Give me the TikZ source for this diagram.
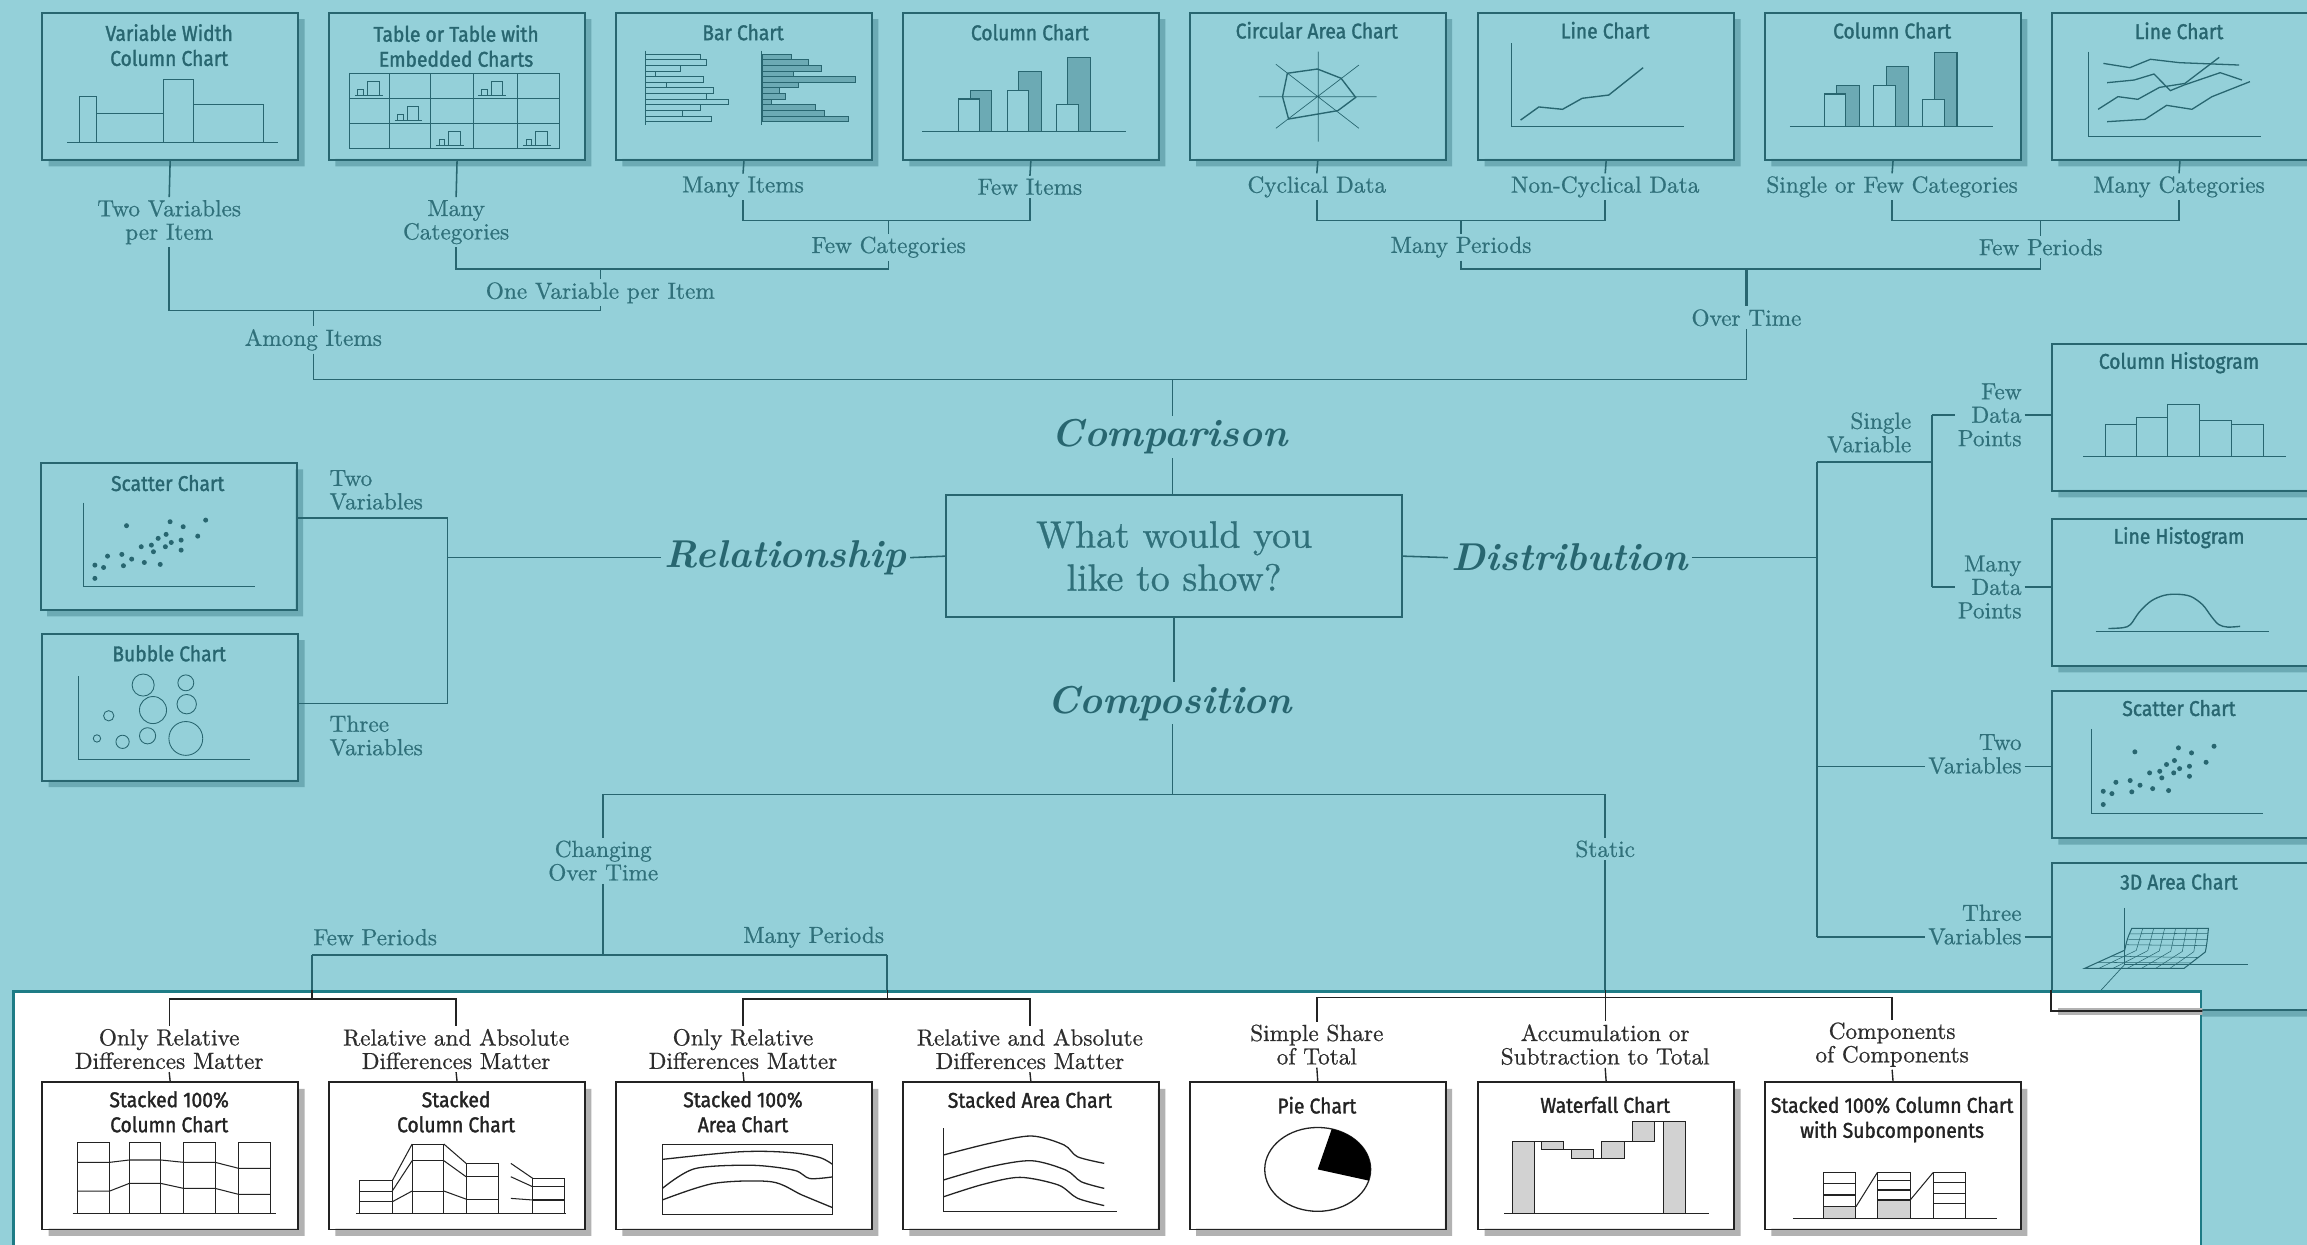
\documentclass[tikz,border=0pt]{standalone}
\usepackage{fontspec}
\newfontfamily\titleface{Fira Sans}[FakeStretch=0.9,FakeBold=1.5]
\newfontfamily\lblface{lmroman10-regular.otf}[FakeBold=0.7]
\usetikzlibrary{calc}

\definecolor{bgc}{RGB}{148,208,217}
\definecolor{ink}{RGB}{40,102,112}
\definecolor{txt}{RGB}{48,112,122}
\definecolor{shd}{RGB}{108,170,180}
\definecolor{barc}{RGB}{108,170,180}
\definecolor{pbord}{RGB}{30,124,134}
\definecolor{gink}{RGB}{35,35,35}
\definecolor{gtxt}{RGB}{45,45,45}
\definecolor{gshd}{RGB}{178,178,178}
\definecolor{gfill}{RGB}{210,210,210}

\tikzset{
  cbox/.style={line width=1.1pt, minimum width=5.22cm, minimum height=3cm, inner sep=0pt, anchor=north west},
  ttl/.style={font=\titleface\fontsize{12.4}{14.5}\selectfont, align=center, inner sep=0pt, anchor=north},
  lbl/.style={font=\lblface\fontsize{13.5}{13.6}\selectfont, align=center, inner sep=1.5pt, text=txt},
  glbl/.style={lbl, text=gtxt},
  cat/.style={font=\bfseries\itshape\fontsize{22.5}{26}\selectfont, text=ink, inner sep=2pt},
  conn/.style={draw=ink, line width=0.9pt},
  gconn/.style={draw=gink, line width=0.8pt},
  fine/.style={color=ink, line width=0.6pt},
  gfine/.style={color=gink, line width=0.6pt},
  minichart/.pic={
    \draw (0,0) -- (18.8,0);
    \draw (1.9,0) rectangle (5.9,-4.3);
    \draw (8.6,0) rectangle (16.2,-9.5);
  },
  scatterplot/.pic={
    \draw[line width=0.4pt] (29.4,27.7) -- (29.4,84.8) -- (146.4,84.8);
    \foreach \a/\b in {59/43.3, 88.6/40.6, 97.5/44, 112.8/39.5, 107.4/50.4,
        85.9/49.2, 80.5/51.9, 96.1/53.1, 89.4/54.7, 85.4/57.6, 75.9/56.5,
        69/57.6, 77.3/61, 96.1/59.9, 55.8/62.8, 46.1/64, 62.5/66, 71.1/68.3,
        81.9/69.6, 56.9/70.5, 37.5/70.1, 43.4/71.7, 37.5/79.1}
      \fill (\a,\b) circle[radius=1.7];
  },
}

% chart frame with drop shadow and title: name, x, y, frame colour, shadow colour, title, title top
\newcommand\chartbox[7]{%
  \fill[#5] (#2+174,#3+5) -- (#2+179,#3+5) -- (#2+179,#3+105) -- (#2+5,#3+105)
     -- (#2+5,#3+100) -- (#2+174,#3+100) -- cycle;
  \node[cbox, draw=#4] (#1) at (#2,#3) {};
  \node[ttl, text=#4] (#1t) at (#2+87,#3+#7) {#6};
}

\begin{document}
\begin{tikzpicture}[x=0.03cm,y=-0.03cm]
\useasboundingbox (0,0) rectangle (1568,846);
\fill[bgc] (0,0) rectangle (1568,846);

% ---------------- Comparison charts (top row)
\chartbox{cmpA}{28}{8}{ink}{shd}{Variable Width\\Column Chart}{8.2}
\chartbox{cmpB}{223}{8}{ink}{shd}{Table or Table with\\Embedded Charts}{8.8}
\chartbox{cmpC}{418}{8}{ink}{shd}{Bar Chart}{8.2}
\chartbox{cmpD}{613}{8}{ink}{shd}{Column Chart}{8.2}
\chartbox{cmpE}{808}{8}{ink}{shd}{Circular Area Chart}{6.6}
\chartbox{cmpF}{1004}{8}{ink}{shd}{Line Chart}{6.6}
\chartbox{cmpG}{1199}{8}{ink}{shd}{Column Chart}{7}
\chartbox{cmpH}{1394}{8}{ink}{shd}{Line Chart}{7}

\begin{scope}[shift={(cmpA.north west)}, fine]
  \draw (17.7,89) -- (161,89);
  \draw (26.3,89) -- (26.3,57.7) -- (37.8,57.7) -- (37.8,89);
  \draw[line width=0.9pt] (37.8,69) -- (83,69);
  \draw (83,89) -- (83,45.9) -- (103.7,45.9) -- (103.7,89);
  \draw (103.7,62.9) -- (151.3,62.9) -- (151.3,89);
\end{scope}

\begin{scope}[shift={(cmpB.north west)}, fine]
  \draw (14.8,41.8) rectangle (157.5,92.8);
  \foreach \x in {41.7,69.9,98.7,129} \draw (\x,41.8) -- (\x,92.8);
  \foreach \y in {58.8,75.8} \draw (14.8,\y) -- (157.5,\y);
  \foreach \a/\b in {18.3/57, 102.2/57, 45.2/74, 73.4/91, 132.5/91}
    \pic[line width=0.4pt] at (\a,\b) {minichart};
\end{scope}

\begin{scope}[shift={(cmpC.north west)}, fine]
  \draw (20.5,26.4) -- (20.5,77);
  \draw (99.8,26.4) -- (99.8,77);
  \foreach \w [count=\i] in {58.2,62.2,44.2,27.3,60.1,35,67,62.2,77,58.2,46.1,65.4}
    \draw[line width=0.4pt] (20.5,{28.7+(\i-1)*3.83}) rectangle (\w,{28.7+\i*3.83});
  \foreach \w [count=\i] in {120,131.3,140.1,121.3,163.5,124.8,111.9,116,106.5,136.1,142.3,158.9}
    \filldraw[fill=barc, line width=0.4pt] (99.8,{28.7+(\i-1)*3.83}) rectangle (\w,{28.7+\i*3.83});
\end{scope}

\begin{scope}[shift={(cmpD.north west)}, fine]
  \draw (13.7,81.5) -- (152.6,81.5);
  \filldraw[fill=barc] (46.5,81.5) rectangle (61.2,53.2);
  \filldraw[fill=bgc] (38.4,81.5) rectangle (52.6,59.3);
  \filldraw[fill=barc] (79.5,81.5) rectangle (94.8,40.3);
  \filldraw[fill=bgc] (72,81.5) rectangle (86,53.8);
  \filldraw[fill=barc] (112.6,81.5) rectangle (127.9,31.2);
  \filldraw[fill=bgc] (105,81.5) rectangle (119.8,62.9);
\end{scope}

\begin{scope}[shift={(cmpE.north west)}, fine]
  \draw[line width=0.4pt] (87.9,27.1) -- (87.9,88.3) (47.6,57.7) -- (127.7,57.7)
     (59.2,35.7) -- (115.6,79.2) (115.6,36.2) -- (59.2,79.2);
  \draw[line width=0.8pt] (67,41.8) -- (87.4,38.9) -- (103.5,45.2) -- (113.4,58.2)
     -- (101.3,67.2) -- (67.8,72.9) -- (63.7,57.7) -- cycle;
\end{scope}

\begin{scope}[shift={(cmpF.north west)}, fine]
  \draw (23.6,21.5) -- (23.6,78.1) -- (140.5,78.1);
  \draw[line width=0.8pt] (29.5,73.6) -- (41.9,64.7) -- (58,66.3) -- (71.4,58.8)
     -- (89.4,56.6) -- (112.8,38);
\end{scope}

\begin{scope}[shift={(cmpG.north west)}, fine]
  \draw (17.5,78.1) -- (155.7,78.1);
  \filldraw[fill=barc] (49.5,78.1) rectangle (64.7,50.2);
  \filldraw[fill=bgc] (40.9,78.1) rectangle (55.6,55.9);
  \filldraw[fill=barc] (83.2,78.1) rectangle (97.9,36.9);
  \filldraw[fill=bgc] (74.5,78.1) rectangle (89.3,50.2);
  \filldraw[fill=barc] (115.8,78.1) rectangle (131.1,27.8);
  \filldraw[fill=bgc] (107.7,78.1) rectangle (122.5,59.5);
\end{scope}

\begin{scope}[shift={(cmpH.north west)}, fine]
  \draw (25.3,27.1) -- (25.3,84.9) -- (143,84.9);
  \draw[line width=0.75pt] (35.6,35.1) -- (53.6,38) -- (67.6,32.3) -- (87.3,34.6) -- (127.8,36.2);
  \draw[line width=0.75pt] (38.1,48.2) -- (56.5,46.4) -- (70,42.3) -- (81.1,53.6) -- (90.4,49.8) -- (115,41.4) -- (129.8,46.4);
  \draw[line width=0.75pt] (32,66.3) -- (45.5,57.7) -- (59,59.5) -- (73.7,51.4) -- (91,48.7) -- (114.3,31);
  \draw[line width=0.75pt] (38.1,74.7) -- (63.9,73.1) -- (78.6,63.6) -- (95.8,66.3) -- (109.4,57.7) -- (135.2,47.5);
\end{scope}

% ---------------- Comparison tree
\node[lbl] (tA) at (115,151) {Two Variables\\per Item};
\node[lbl] (tB) at (310,151) {Many\\Categories};
\node[lbl] (tC) at (505,127) {Many Items};
\node[lbl] (tD) at (700,127) {Few Items};
\node[lbl] (tE) at (895,127) {Cyclical Data};
\node[lbl] (tF) at (1091,127) {Non-Cyclical Data};
\node[lbl] (tG) at (1286,127) {Single or Few Categories};
\node[lbl] (tH) at (1481,127) {Many Categories};
\node[lbl] (fewcat) at (604,168) {Few Categories};
\node[lbl] (manyper) at (993,168) {Many Periods};
\node[lbl] (fewper) at (1387,168) {Few Periods};
\node[lbl] (onevar) at (408,199) {One Variable per Item};
\node[lbl] (among) at (213,231) {Among Items};
\node[lbl] (overt) at (1187,216) {Over Time};

\coordinate (kC) at (604,150);
\coordinate (kE) at (993,150);
\coordinate (kG) at (1387,150);
\coordinate (kB) at (408,183);
\coordinate (kM) at (1187,183);
\coordinate (kA) at (213,211);
\coordinate (kT) at (797,258);

\foreach \b/\l in {cmpA/tA, cmpB/tB, cmpC/tC, cmpD/tD, cmpE/tE, cmpF/tF, cmpG/tG, cmpH/tH}
  \draw[conn] (\b.south) -- (\l.north);
\draw[conn] (tC.south) |- (kC) -| (tD.south);
\draw[conn] (kC) -- (fewcat.north);
\draw[conn] (tE.south) |- (kE) -| (tF.south);
\draw[conn] (kE) -- (manyper.north);
\draw[conn] (tG.south) |- (kG) -| (tH.south);
\draw[conn] (kG) -- (fewper.north);
\draw[conn] (tB.south) |- (kB) -| (fewcat.south);
\draw[conn] (kB) -- (onevar.north);
\draw[conn] (manyper.south) |- (kM) -| (fewper.south);
\draw[conn, line width=1.3pt] (kM) -- (overt.north);
\draw[conn] (tA.south) |- (kA) -| (onevar.south);
\draw[conn] (kA) -- (among.north);
\draw[conn] (among.south) |- (kT) -| (overt.south);

% ---------------- centre
\node[draw=ink, line width=0.9pt, minimum width=9.3cm, minimum height=2.49cm, align=center,
      font=\lblface\fontsize{22}{25}\selectfont, text=txt] (q) at (798,378) {What would you\\like to show?};
\node[cat] (cmp) at (795,297) {Comparison};
\node[cat] (rel) at (534,379) {Relationship};
\node[cat] (dis) at (1067,379) {Distribution};
\node[cat] (com) at (795,478) {Composition};
\draw[conn] (kT) -- (kT |- cmp.north);
\draw[conn] (kT |- cmp.south) -- (kT |- q.north);
\draw[conn] (q.west) -- (rel.east);
\draw[conn] (q.east) -- (dis.west);
\draw[conn] (q.south) -- (q.south |- com.north);

% ---------------- Relationship
\chartbox{relA}{27}{314}{ink}{shd}{Scatter Chart}{8.6}
\chartbox{relB}{28}{430}{ink}{shd}{Bubble Chart}{8.3}
\begin{scope}[shift={(relA.north west)}, fine]
  \pic at (0,0) {scatterplot};
\end{scope}
\begin{scope}[shift={(relB.north west)}, fine]
  \draw[line width=0.4pt] (25.2,29.5) -- (25.2,86.2) -- (141.9,86.2);
  \foreach \a/\b/\r in {69.3/35.6/7.5, 98.3/34.1/5.4, 76/52.6/9.2, 98.9/48.6/6.6, 45.9/56.5/3.5,
      37.9/71.9/2.5, 55.3/74.2/4.5, 72.3/70.1/5.5, 98.3/71.9/11.5}
    \draw[line width=0.5pt] (\a,\b) circle[radius=\r];
\end{scope}
\coordinate (rS) at (304,352);
\coordinate (rB) at (304,478);
\draw[conn] (relA.east |- rS) -- (rS) -- (rB) -- (relB.east |- rB);
\draw[conn] (rel.west) -- (rel.west -| rS);
\node[lbl, align=left, anchor=west] (rTwo) at (222,333) {Two\\Variables};
\node[lbl, align=left, anchor=west] (rThree) at (222,500) {Three\\Variables};

% ---------------- Distribution
\chartbox{disA}{1394}{233}{ink}{shd}{Column Histogram}{6.1}
\chartbox{disB}{1394}{352}{ink}{shd}{Line Histogram}{6}
\chartbox{disC}{1394}{469}{ink}{shd}{Scatter Chart}{6.5}
\chartbox{disD}{1394}{586}{ink}{shd}{3D Area Chart}{7.5}

\begin{scope}[shift={(disA.north west)}, fine]
  \draw (22,77.5) -- (160,77.5);
  \foreach \a/\b/\t in {37/58/55.6, 58/79.3/50.5, 79.3/100.9/42, 100.9/122.8/52.9, 122.8/144.3/55.6}
    \draw (\a,77.5) rectangle (\b,\t);
\end{scope}
\begin{scope}[shift={(disB.north west)}, fine]
  \draw (30.4,77.4) -- (148.3,77.4);
  \draw[line width=0.8pt] plot[smooth, tension=0.55] coordinates {(39,75.2) (49,74.6) (54,72.5)
     (60,64) (68,56.5) (77,52.6) (86,51.9) (95,53.4) (103,59) (109,67) (114,72.5) (120,74.2) (128.5,73.7)};
\end{scope}
\begin{scope}[shift={(disC.north west)}, fine]
  \pic at (-2,-1.3) {scatterplot};
\end{scope}
\begin{scope}[shift={(disD.north west)}, fine]
  \draw[line width=0.4pt] (50.1,31) -- (50.1,69.5) -- (133.8,69.5);
  \draw[line width=0.4pt] (50.1,69.5) -- (32,89.2);
  \draw[line width=0.6pt] (22.8,72.2) -- (90.4,72.2) -- (104.9,61) .. controls (106,55) .. (107,45)
     -- (54.9,45) .. controls (51.8,52) .. (50.1,59.8) -- cycle;
  \foreach \i in {1,...,6}
    \draw[line width=0.3pt] ({22.8+\i*9.657},72.2) -- ({50.1+\i*7.829},{59.8+\i*0.171})
       -- ({54.9+\i*7.443},45);
  \draw[line width=0.3pt] (31.9,68.1) -- (95.2,68.5) (41,63.9) -- (100.1,64.8)
     (51.3,56.1) -- (105.4,56.7) (52.5,52.4) -- (106,52.5) (53.7,48.7) -- (106.5,48.3);
\end{scope}

\coordinate (dTop) at (1235,314);
\coordinate (dSV) at (1313,314);
\coordinate (dFew) at (1313,282);
\coordinate (dMany) at (1313,399);
\coordinate (dTwo) at (1235,521);
\coordinate (dThree) at (1235,637);
\draw[conn] (dis.east) -- (dis.east -| dTop);
\draw[conn] (dTop) -- (dThree);
\draw[conn] (dTop) -- (dSV);
\draw[conn] (dFew) -- (dMany);
\node[lbl, align=right, anchor=east] (sv) at (1301,294) {Single\\Variable};
\node[lbl, align=right, anchor=east] (fdp) at (1376,282) {Few\\Data\\Points};
\node[lbl, align=right, anchor=east] (mdp) at (1376,399) {Many\\Data\\Points};
\node[lbl, align=right, anchor=east] (dtv) at (1376,512.5) {Two\\Variables};
\node[lbl, align=right, anchor=east] (dthv) at (1376,628.5) {Three\\Variables};
\draw[conn] (dFew) -- (fdp.west |- dFew);
\draw[conn] (fdp.east |- dFew) -- (disA.west |- dFew);
\draw[conn] (dMany) -- (mdp.west |- dMany);
\draw[conn] (mdp.east |- dMany) -- (disB.west |- dMany);
\draw[conn] (dTwo) -- (dtv.west |- dTwo);
\draw[conn] (dtv.east |- dTwo) -- (disC.west |- dTwo);
\draw[conn] (dThree) -- (dthv.west |- dThree);
\draw[conn] (dthv.east |- dThree) -- (disD.west |- dThree);

% ---------------- Composition tree
\node[lbl] (cot) at (410,585) {Changing\\Over Time};
\node[lbl] (stat) at (1091,577) {Static};
\node[lbl] (fp) at (255,637) {Few Periods};
\node[lbl] (mp) at (553,637) {Many Periods};
\coordinate (cJ) at (797,540);
\coordinate (cFew) at (212,649);
\coordinate (cMany) at (603,649);
\coordinate (pFew) at (212,679);
\coordinate (pMany) at (603,679);
\coordinate (pStat) at (1091,678);
\draw[conn] (cJ |- com.south) -- (cJ);
\draw[conn] (cot.north) |- (cJ) -| (stat.north);
\draw[conn] (cot.south) -- (cot.south |- cFew);
\draw[conn] (cFew) -- (cMany);
\draw[conn] (cFew) -- (pFew);
\draw[conn] (cMany) -- (pMany);
\draw[conn] (stat.south) -- (pStat);

% ---------------- white panel
\node[draw=pbord, line width=1.6pt, fill=white, minimum width=44.61cm, minimum height=6cm,
      anchor=north west, inner sep=0pt] (panel) at (8,673) {};
\begin{scope}
  \clip (panel.north west) rectangle (panel.south east);
  \fill[gshd] (1399,685) rectangle (1579,690);
  \draw[gink, line width=1.1pt] (disD.north west) rectangle (disD.south east);
\end{scope}

\chartbox{cA}{28}{735}{gink}{gshd}{Stacked 100\%\\Column Chart}{6.4}
\chartbox{cB}{223}{735}{gink}{gshd}{Stacked\\Column Chart}{6.4}
\chartbox{cC}{418}{735}{gink}{gshd}{Stacked 100\%\\Area Chart}{6.4}
\chartbox{cD}{613}{735}{gink}{gshd}{Stacked Area Chart}{6.8}
\chartbox{cE}{808}{735}{gink}{gshd}{Pie Chart}{10.2}
\chartbox{cF}{1004}{735}{gink}{gshd}{Waterfall Chart}{10.2}
\chartbox{cG}{1199}{735}{gink}{gshd}{Stacked 100\% Column Chart\\with Subcomponents}{10.2}

\begin{scope}[shift={(cA.north west)}, gfine]
  \draw (21.4,89.7) -- (159.3,89.7);
  \foreach \a/\b in {24.5/46.6, 59.9/81.2, 96.8/118.2, 134.3/155.6} \draw (\a,41.7) rectangle (\b,89.7);
  \draw (24.5,55) -- (46.6,55) -- (59.9,53.4) -- (81.2,53.4) -- (96.8,55) -- (118.2,55) -- (134.3,59.1) -- (155.6,59.1);
  \draw (24.5,74.5) -- (46.6,74.5) -- (59.9,69.3) -- (81.2,69.3) -- (96.8,72.7) -- (118.2,72.7) -- (134.3,76.8) -- (155.6,76.8);
\end{scope}

\begin{scope}[shift={(cB.north west)}, gfine]
  \draw (18.9,90) -- (162,90);
  \draw (21.5,67.5) rectangle (43.6,90); \draw (21.5,74.5) -- (43.6,74.5) (21.5,81.8) -- (43.6,81.8);
  \draw (57.1,42.6) rectangle (78.7,90); \draw (57.1,53.9) -- (78.7,53.9) (57.1,74.5) -- (78.7,74.5);
  \draw (93.8,55.7) rectangle (115.7,90); \draw (93.8,64.8) -- (115.7,64.8) (93.8,80) -- (115.7,80);
  \draw (139.1,65.9) rectangle (160.6,90); \draw (139.1,71.6) -- (160.6,71.6) (139.1,80.6) -- (160.6,80.6);
  \draw (43.6,67.5) -- (57.1,42.6) (43.6,74.5) -- (57.1,53.9) (43.6,81.8) -- (57.1,74.5);
  \draw (78.7,42.6) -- (93.8,55.7) (78.7,53.9) -- (93.8,64.8) (78.7,74.5) -- (93.8,80);
  \draw (124.2,55.7) -- (139.1,65.9) (124.2,64.8) -- (139.1,71.6) (124.2,79.5) -- (139.1,80.6);
\end{scope}

\begin{scope}[shift={(cC.north west)}, gfine]
  \draw (32.1,42.6) rectangle (147.9,90.4);
  \draw[line width=0.75pt] plot[smooth] coordinates {(32.1,53) (60,50) (85.4,47.8) (105,47.6) (124.5,48.9) (140,52) (147.9,56.4)};
  \draw[line width=0.75pt] plot[smooth] coordinates {(32.1,72.8) (54.2,59.3) (93.2,57) (121.9,60.4) (132.3,66) (147.9,64.9)};
  \draw[line width=0.75pt] plot[smooth] coordinates {(32.1,80.6) (67.2,69.3) (106.3,68.2) (127.1,77.2) (147.9,85.8)};
\end{scope}

\begin{scope}[shift={(cD.north west)}, gfine]
  \draw (28.3,31.9) -- (28.3,88.1) -- (146.1,88.1);
  \draw[line width=0.75pt] plot[smooth] coordinates {(28.3,50) (60,42) (88.1,37.1) (110.2,43.2) (119.3,51.2) (137.5,55.7)};
  \draw[line width=0.75pt] plot[smooth] coordinates {(28.3,67) (60,58) (88.1,53.9) (111.5,60.3) (121.9,68.2) (137.5,72.7)};
  \draw[line width=0.75pt] plot[smooth] coordinates {(28.3,78.4) (55,70) (80.3,65.2) (106.3,70.4) (119.3,79.4) (137.5,84.4)};
\end{scope}

\begin{scope}[shift={(cE.north west)}, gfine]
  \filldraw[fill=white, line width=0.75pt] (87.6,59.8) ellipse[x radius=36, y radius=28.5];
  \fill[black] (87.6,59.8) -- ({87.6+36*cos(-74.6)},{59.8+28.5*sin(-74.6)})
     arc[start angle=-74.6, end angle=15.5, x radius=36, y radius=28.5] -- cycle;
\end{scope}

\begin{scope}[shift={(cF.north west)}, gfine]
  \draw (18.5,89.7) -- (157.6,89.7);
  \filldraw[fill=gfill] (23.7,41) rectangle (38.8,89.7);
  \filldraw[fill=gfill] (44,41) rectangle (58.8,46.6);
  \filldraw[fill=gfill] (64,46.6) rectangle (79.1,52.3);
  \filldraw[fill=gfill] (84.8,41) rectangle (100.4,52.3);
  \filldraw[fill=gfill] (105.6,27.4) rectangle (120.5,41);
  \filldraw[fill=gfill] (126.4,27.4) rectangle (141.3,89.7);
  \draw (38.8,41) -- (44,41) (58.8,46.6) -- (64,46.6) (79.1,52.3) -- (84.8,52.3)
     (100.4,41) -- (105.6,41) (120.5,27.4) -- (126.4,27.4);
\end{scope}

\begin{scope}[shift={(cG.north west)}, gfine]
  \draw (19.5,93.1) -- (158.5,93.1);
  \fill[gfill] (40.1,85.2) rectangle (62.4,93.1);
  \fill[gfill] (76.9,80.6) rectangle (99.3,93.1);
  \draw (40.1,62) rectangle (62.4,93.1);
  \draw (76.9,62) rectangle (99.3,93.1);
  \draw (114.8,62) rectangle (136.6,93.1);
  \draw (40.1,69.3) -- (62.4,69.3) (40.1,77.2) -- (62.4,77.2) (40.1,85.2) -- (62.4,85.2);
  \draw (76.9,67.5) -- (99.3,67.5) (76.9,73.8) -- (99.3,73.8) (76.9,80.6) -- (99.3,80.6);
  \draw (114.8,68.9) -- (136.6,68.9) (114.8,76) -- (136.6,76) (114.8,83) -- (136.6,83);
  \draw (62.4,85.2) -- (76.9,62) (99.3,80.6) -- (114.8,62);
\end{scope}

% labels and connectors inside the panel
\node[glbl] (mA) at (115,713) {Only Relative\\Differences Matter};
\node[glbl] (mB) at (310,713) {Relative and Absolute\\Differences Matter};
\node[glbl] (mC) at (505,713) {Only Relative\\Differences Matter};
\node[glbl] (mD) at (700,713) {Relative and Absolute\\Differences Matter};
\node[glbl] (mE) at (895,710) {Simple Share\\of Total};
\node[glbl] (mF) at (1091,710) {Accumulation or\\Subtraction to Total};
\node[glbl] (mG) at (1286,710) {Components\\of Components};

\draw[gconn] (panel.north -| pFew) -- (pFew);
\draw[gconn] (mA.north) |- (pFew) -| (mB.north);
\draw[gconn] (panel.north -| pMany) -- (pMany);
\draw[gconn] (mC.north) |- (pMany) -| (mD.north);
\draw[gconn] (panel.north -| pStat) -- (mF.north);
\draw[gconn] (mE.north) |- (pStat) -| (mG.north);
\foreach \m/\c in {mA/cA, mB/cB, mC/cC, mD/cD, mE/cE, mF/cF, mG/cG}
  \draw[gconn] (\m.south) -- (\c.north);
\end{tikzpicture}
\end{document}
